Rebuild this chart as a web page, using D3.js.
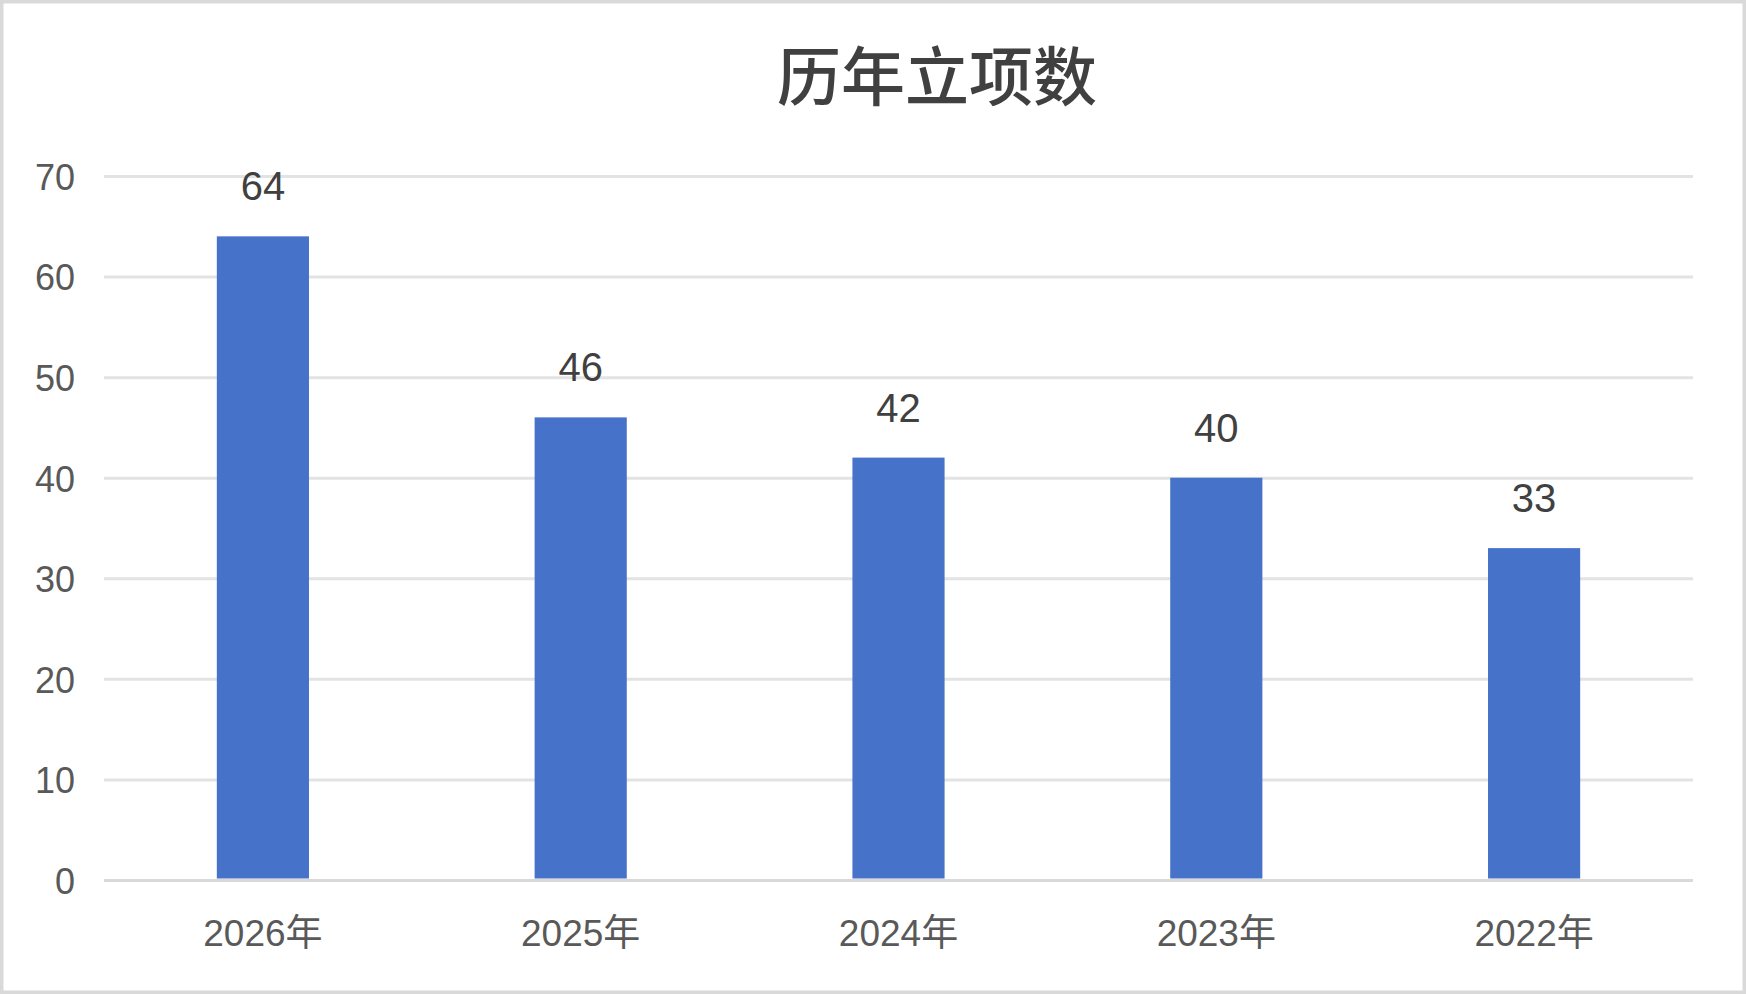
<!DOCTYPE html>
<html>
<head>
<meta charset="utf-8">
<script src="https://cdn.jsdelivr.net/npm/d3@7"></script>
<style>
  html, body { margin: 0; padding: 0; background: #fff; }
  svg { display: block; }
</style>
</head>
<body>
<div id="chart"></div>
<script>
const categories = ["2026年", "2025年", "2024年", "2023年", "2022年"];
const counts = [64, 46, 42, 40, 33];
const yTicks = [0, 10, 20, 30, 40, 50, 60, 70];
const title = "历年立项数";

const W = 1746, H = 994;
const plot = { left: 104, right: 1693, top: 176, bottom: 880 };
const numFont = "'Liberation Sans', Arial, 'Noto Sans CJK SC', sans-serif";

const svg = d3.select("#chart")
    .append("svg")
    .attr("width", W)
    .attr("height", H);

// chart area border
svg.append("rect")
    .attr("x", 1.75)
    .attr("y", 1.75)
    .attr("width", W - 3.5)
    .attr("height", H - 3.5)
    .attr("fill", "#fff")
    .attr("stroke", "#d9d9d9")
    .attr("stroke-width", 3.5);

const x = d3.scaleBand()
    .domain(categories)
    .range([plot.left, plot.right])
    .padding(0);

const y = d3.scaleLinear()
    .domain([0, 70])
    .range([plot.bottom, plot.top]);

// gridlines + y labels
const yAxis = svg.append("g")
    .attr("transform", `translate(${plot.left},0)`)
    .call(d3.axisLeft(y)
        .tickValues(yTicks)
        .tickSize(-(plot.right - plot.left))
        .tickPadding(29));

yAxis.select(".domain").remove();
yAxis.selectAll(".tick line")
    .attr("stroke", d => d === 0 ? "#d9d9d9" : "#e3e3e3")
    .attr("stroke-width", 3);
yAxis.selectAll(".tick text")
    .attr("fill", "#595959")
    .attr("dy", "0.37em")
    .style("font-family", numFont)
    .style("font-size", "36px");

// bars
const barW = x.bandwidth() * 0.29;
svg.selectAll(".bar")
    .data(counts)
    .enter()
    .append("rect")
    .attr("class", "bar")
    .attr("x", (d, i) => x(categories[i]) + x.bandwidth() / 2 - barW / 2)
    .attr("y", d => y(d))
    .attr("width", barW)
    .attr("height", d => y(0) - y(d) - 1.5)
    .attr("fill", "#4673c9");

// value labels
svg.selectAll(".label")
    .data(counts)
    .enter()
    .append("text")
    .attr("class", "label")
    .attr("x", (d, i) => x(categories[i]) + x.bandwidth() / 2)
    .attr("y", d => y(d) - 36)
    .attr("text-anchor", "middle")
    .attr("fill", "#404040")
    .style("font-family", numFont)
    .style("font-size", "40px")
    .text(d => d);

// category labels
svg.selectAll(".cat")
    .data(categories)
    .enter()
    .append("text")
    .attr("class", "cat")
    .attr("x", d => x(d) + x.bandwidth() / 2)
    .attr("y", 946)
    .attr("text-anchor", "middle")
    .attr("fill", "#595959")
    .style("font-family", numFont)
    .style("font-size", "37px")
    .text(d => d);

// title
svg.append("text")
    .attr("x", 937)
    .attr("y", 72)
    .attr("text-anchor", "middle")
    .attr("dominant-baseline", "central")
    .attr("fill", "#404040")
    .style("font-family", "'Noto Sans CJK SC', sans-serif")
    .style("font-size", "64px")
    .style("font-weight", "500")
    .text(title);
</script>
</body>
</html>
